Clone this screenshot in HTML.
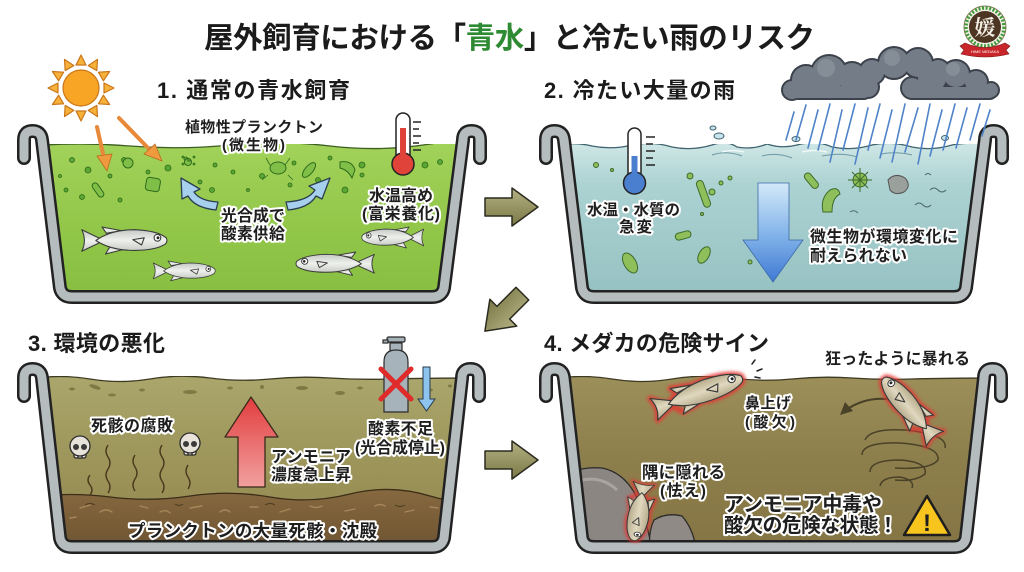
<!DOCTYPE html>
<html><head><meta charset="utf-8">
<style>
html,body{margin:0;padding:0;background:#fff;}
svg{display:block;}
.t{font-family:"Liberation Sans","Noto Sans CJK JP",sans-serif;font-weight:700;}
.lbl{font-family:"Liberation Sans","Noto Sans CJK JP",sans-serif;font-weight:700;fill:#1e1e1e;stroke:#fff;stroke-width:4;paint-order:stroke;stroke-linejoin:round;}
</style></head>
<body>
<svg width="1024" height="572" viewBox="0 0 1024 572" xmlns="http://www.w3.org/2000/svg">
<defs>
 <linearGradient id="gGreen" x1="0" y1="0" x2="0" y2="1"><stop offset="0" stop-color="#a2d25a"/><stop offset="0.5" stop-color="#92c74a"/><stop offset="1" stop-color="#86bd3f"/></linearGradient>
 <linearGradient id="gBlue" x1="0" y1="0" x2="0" y2="1"><stop offset="0" stop-color="#cfe7e6"/><stop offset="0.25" stop-color="#acd2d2"/><stop offset="1" stop-color="#93bfc0"/></linearGradient>
 <linearGradient id="gOlive" x1="0" y1="0" x2="0" y2="1"><stop offset="0" stop-color="#aaa66c"/><stop offset="0.5" stop-color="#9c9459"/><stop offset="1" stop-color="#8f844f"/></linearGradient>
 <linearGradient id="gSed" x1="0" y1="0" x2="0" y2="1"><stop offset="0" stop-color="#86693f"/><stop offset="1" stop-color="#6a5030"/></linearGradient>
 <linearGradient id="gBrown" x1="0" y1="0" x2="0" y2="1"><stop offset="0" stop-color="#9c8f5a"/><stop offset="0.45" stop-color="#8d7f4c"/><stop offset="1" stop-color="#847343"/></linearGradient>
 <linearGradient id="gDown" x1="0" y1="0" x2="0" y2="1"><stop offset="0" stop-color="#d3e9f8"/><stop offset="0.5" stop-color="#86b6ea"/><stop offset="1" stop-color="#3f7ad4"/></linearGradient>
 <linearGradient id="gUp" x1="0" y1="0" x2="0" y2="1"><stop offset="0" stop-color="#e23d3d"/><stop offset="1" stop-color="#f2a0a0"/></linearGradient>
 <linearGradient id="gArr" x1="0" y1="0" x2="0" y2="1"><stop offset="0" stop-color="#b3b083"/><stop offset="1" stop-color="#7c7947"/></linearGradient>
 <linearGradient id="gFish" x1="0" y1="0" x2="0" y2="1"><stop offset="0" stop-color="#c4c9c6"/><stop offset="0.5" stop-color="#eef0ec"/><stop offset="1" stop-color="#c9cdc8"/></linearGradient>
 <linearGradient id="gFish2" x1="0" y1="0" x2="0" y2="1"><stop offset="0" stop-color="#b7ab8a"/><stop offset="0.5" stop-color="#e0d8bf"/><stop offset="1" stop-color="#b5aa8c"/></linearGradient>
 <filter id="blur" x="-30%" y="-30%" width="160%" height="160%"><feGaussianBlur stdDeviation="1.6"/></filter>

 <path id="tubA" d="M24 158 L24 140 Q24 131 32.5 131 Q41 131 42 140 L60 288 Q62 297 72 297 L432 297 Q442 297 444 288 L463 140 Q463 131 471.5 131 Q480 131 480 140 L480 158"/>
 <path id="tubB" d="M24 396 L24 378 Q24 369 32.5 369 Q41 369 42 378 L60 538 Q62 547 72 547 L432 547 Q442 547 444 538 L462 378 Q462 369 470.5 369 Q479 369 479 378 L479 396"/>
 <clipPath id="cA"><path d="M42.7 144 L462.3 144 L444 288 Q442 297 432 297 L72 297 Q62 297 60 288 Z"/></clipPath>
 <clipPath id="cB"><path d="M43 376 L461.8 376 L444 538 Q442 547 432 547 L72 547 Q62 547 60 538 Z"/></clipPath>

 <g id="fish" stroke="#3a3a3a" stroke-width="1.2" stroke-linejoin="round">
  <path d="M2 3 Q8 15 2 27 L21 18 L21 12 Z"/>
  <path d="M30 7 L25 0 L47 4 Z"/>
  <path d="M34 22 L29 30 L53 24 Z"/>
  <path d="M18 15 Q35 3 62 3 Q88 4 98 12 Q100 16 97 19 Q86 26 62 26 Q35 26 18 15 Z"/>
  <path d="M60 14 L73 12 L70 20 Z" fill="none"/>
  <circle cx="88" cy="12" r="3.8" fill="#fff"/>
  <circle cx="88.6" cy="12" r="1.6" fill="#222" stroke="none"/>
 </g>
 <path id="fishOut" d="M2 3 Q8 15 2 27 L21 18 L30 28 L53 24 Q60 26 62 26 Q86 26 97 19 Q100 16 98 12 Q88 4 62 3 L47 4 L25 0 L30 7 Q22 11 18 15 Z"/>

 <path id="oArrow" d="M-26 -9 L1 -9 L1 -19 L27 0 L1 19 L1 9 L-26 9 Z"/>
</defs>

<!-- Title -->
<text class="t" x="204" y="48" font-size="29.5" fill="#1b1b1b" textLength="611">屋外飼育における「<tspan fill="#2f8a34">青水</tspan>」と冷たい雨のリスク</text>

<!-- Logo -->
<g>
 <circle cx="985" cy="27" r="21" fill="#f4f1e6" stroke="#8a7a5a" stroke-width="1"/>
 <circle cx="985" cy="27" r="19" fill="none" stroke="#3f9b3c" stroke-width="3.5" stroke-dasharray="2 1.6"/>
 <circle cx="985" cy="27" r="16" fill="#4d3524"/>
 <text x="985" y="35" text-anchor="middle" font-size="21" fill="#f5f0e6" font-family="Liberation Serif,'Noto Serif CJK SC',serif" font-weight="700">媛</text>
 <path d="M960 46 L965 43 Q985 52 1005 43 L1010 46 L1006 50 L1009 54 Q985 60 961 54 L964 50 Z" fill="#c8262b" stroke="#7a1515" stroke-width="0.6"/>
 <text x="985" y="53" text-anchor="middle" font-size="4" fill="#fff" font-family="Liberation Sans,sans-serif">HIME   MEDAKA</text>
</g>

<!-- ================= PANEL 1 ================= -->
<text class="t" x="157" y="98" font-size="22" fill="#1b1b1b" textLength="193">1. 通常の青水飼育</text>
<!-- sun -->
<g stroke="#c9761a" stroke-width="1.2" fill="#f6b13a" stroke-linejoin="round">
 <g transform="translate(81,88)">
  <polygon points="0,-33 -5,-23 5,-23"/>
  <polygon points="0,-33 -5,-23 5,-23" transform="rotate(30)"/>
  <polygon points="0,-33 -5,-23 5,-23" transform="rotate(60)"/>
  <polygon points="0,-33 -5,-23 5,-23" transform="rotate(90)"/>
  <polygon points="0,-33 -5,-23 5,-23" transform="rotate(120)"/>
  <polygon points="0,-33 -5,-23 5,-23" transform="rotate(150)"/>
  <polygon points="0,-33 -5,-23 5,-23" transform="rotate(180)"/>
  <polygon points="0,-33 -5,-23 5,-23" transform="rotate(210)"/>
  <polygon points="0,-33 -5,-23 5,-23" transform="rotate(240)"/>
  <polygon points="0,-33 -5,-23 5,-23" transform="rotate(270)"/>
  <polygon points="0,-33 -5,-23 5,-23" transform="rotate(300)"/>
  <polygon points="0,-33 -5,-23 5,-23" transform="rotate(330)"/>
  <circle r="18" fill="#f8a526"/>
 </g>
</g>
<!-- water -->
<g clip-path="url(#cA)">
 <rect x="30" y="140" width="450" height="170" fill="#fff"/>
 <path d="M30 146 Q80 142 130 146 T230 145 T330 146 T430 144 T490 146 L490 310 L30 310 Z" fill="url(#gGreen)"/>
 <path d="M30 146 Q80 142 130 146 T230 145 T330 146 T430 144 T490 146" fill="none" stroke="#3d5f22" stroke-width="1.3"/>
 <g fill="#5aa632" stroke="#2f6b1c" stroke-width="0.8">
  <circle cx="72" cy="160" r="2.5"/><circle cx="88" cy="170" r="3"/><circle cx="110" cy="176" r="2"/><circle cx="124" cy="160" r="2.5"/>
  <circle cx="148" cy="172" r="2"/><circle cx="168" cy="168" r="3"/><circle cx="186" cy="159" r="2"/><circle cx="200" cy="182" r="2"/>
  <circle cx="66" cy="190" r="2"/><circle cx="82" cy="197" r="2.5"/><circle cx="120" cy="200" r="2"/><circle cx="212" cy="190" r="2.5"/>
  <circle cx="233" cy="172" r="2"/><circle cx="262" cy="176" r="2.5"/><circle cx="290" cy="185" r="2"/><circle cx="318" cy="180" r="2.5"/>
  <circle cx="330" cy="158" r="2"/><circle cx="345" cy="190" r="3"/><circle cx="362" cy="165" r="3"/><circle cx="373" cy="192" r="2"/>
  <circle cx="425" cy="165" r="3"/><circle cx="440" cy="162" r="2.5"/><circle cx="362" cy="175" r="2"/><circle cx="215" cy="165" r="2"/>
  <circle cx="60" cy="176" r="1.5"/><circle cx="294" cy="163" r="2"/><circle cx="248" cy="190" r="1.5"/>
 </g>
 <g fill="#7fbf47" stroke="#2f6b1c" stroke-width="1">
  <circle cx="128" cy="163" r="5"/><circle cx="188" cy="162" r="3.5"/>
  <rect x="146" y="178" width="14" height="13" rx="3" transform="rotate(10 153 184)"/>
  <ellipse cx="280" cy="172" rx="11" ry="5" transform="rotate(-55 220 170)"/>
  <ellipse cx="278" cy="168" rx="8" ry="6"/>
  <ellipse cx="309" cy="170" rx="9" ry="4" transform="rotate(-50 309 170)"/>
  <path d="M340 162 Q352 160 355 170 L352 178 Q348 170 340 168 Z"/>
  <rect x="95" y="182" width="6" height="16" rx="3" transform="rotate(-35 98 190)"/>
 </g>
 <g fill="#5aa632" stroke="#2f6b1c" stroke-width="0.8"><circle cx="189" cy="160" r="1.4"/><circle cx="183" cy="157" r="1"/><circle cx="194" cy="157" r="1"/><circle cx="183" cy="164" r="1"/><circle cx="194" cy="164" r="1"/></g>
 <g stroke="#2f6b1c" stroke-width="0.8"><line x1="270" y1="165" x2="266" y2="158"/><line x1="285" y1="165" x2="290" y2="158"/><line x1="268" y1="175" x2="262" y2="180"/><line x1="288" y1="175" x2="293" y2="180"/></g>
 <!-- fish -->
 <use href="#fish" fill="url(#gFish)" transform="translate(80,227) scale(0.88,0.9)"/>
 <use href="#fish" fill="url(#gFish)" transform="translate(152,261) scale(0.64,0.66)"/>
 <use href="#fish" fill="url(#gFish)" transform="translate(425,227) scale(-0.64,0.7)"/>
 <use href="#fish" fill="url(#gFish)" transform="translate(376,252) scale(-0.81,0.78)"/>
</g>
<use href="#tubA" fill="none" stroke="#222" stroke-width="14" stroke-linecap="round" stroke-linejoin="round"/>
<use href="#tubA" fill="none" stroke="#b5bcbe" stroke-width="9" stroke-linecap="round" stroke-linejoin="round"/>
<!-- orange arrows -->
<g stroke="#e8893a" stroke-width="4" fill="#f09a40" stroke-linecap="round">
 <line x1="97" y1="127" x2="104" y2="158"/>
 <line x1="119" y1="118" x2="150" y2="150"/>
</g>
<g fill="#f09a40" stroke="#b86a20" stroke-width="0.8">
 <polygon points="107,171 97,156 112,154"/>
 <polygon points="162,161 144,154 155,144"/>
</g>
<!-- thermometer 1 -->
<g stroke="#222" stroke-width="1.5">
 <rect x="396" y="113" width="14" height="52" rx="7" fill="#fff"/>
 <circle cx="403" cy="164" r="11" fill="#e0433a"/>
 <rect x="400" y="128" width="6" height="34" fill="#e0433a" stroke="none"/>
 <line x1="413" y1="122" x2="421" y2="122"/><line x1="413" y1="129" x2="419" y2="129"/><line x1="413" y1="136" x2="421" y2="136"/><line x1="413" y1="143" x2="419" y2="143"/><line x1="413" y1="150" x2="421" y2="150"/>
</g>
<!-- blue curved arrows -->
<g stroke="#2c3e50" stroke-width="1.3" stroke-linejoin="round" fill="#a7cfee">
 <path d="M216 210 Q195 208 188 196 L182 199 L181 178 L200 189 L194 192 Q200 201 218 202 Z"/>
 <path d="M288 210 Q309 208 316 196 L322 199 L330 178 L309 186 L315 190 Q308 201 286 202 Z"/>
</g>
<text class="lbl" x="185" y="132" font-size="15" textLength="138">植物性プランクトン</text>
<text class="lbl" x="222" y="150" font-size="15" textLength="63">(微生物)</text>
<text class="lbl" x="221" y="221" font-size="16" textLength="64">光合成で</text>
<text class="lbl" x="221" y="239" font-size="16" textLength="64">酸素供給</text>
<text class="lbl" x="369" y="201" font-size="16" textLength="64">水温高め</text>
<text class="lbl" x="362" y="219" font-size="16" textLength="78">(富栄養化)</text>

<!-- ================= PANEL 2 ================= -->
<text class="t" x="544" y="98" font-size="22" fill="#1b1b1b" textLength="191">2. 冷たい大量の雨</text>
<!-- clouds -->
<g fill="#3c424b">
 <circle cx="792" cy="90" r="11"/><circle cx="806" cy="80" r="16"/><circle cx="829" cy="73" r="19"/><circle cx="852" cy="77" r="16"/><circle cx="868" cy="87" r="12"/><rect x="790" y="84" width="82" height="16" rx="8"/>
 <circle cx="872" cy="72" r="14"/><circle cx="894" cy="63" r="17"/><circle cx="918" cy="63" r="16"/><circle cx="938" cy="71" r="13"/>
 <circle cx="912" cy="88" r="12"/><circle cx="932" cy="78" r="16"/><circle cx="956" cy="74" r="15"/><circle cx="976" cy="82" r="13"/><circle cx="991" cy="90" r="9"/><rect x="905" y="85" width="92" height="15" rx="7"/>
</g>
<g fill="#747c87">
 <circle cx="792" cy="90" r="9"/><circle cx="806" cy="80" r="14"/><circle cx="829" cy="73" r="17"/><circle cx="852" cy="77" r="14"/><circle cx="868" cy="87" r="10"/><rect x="792" y="86" width="78" height="12" rx="6"/>
 <circle cx="872" cy="72" r="12"/><circle cx="894" cy="63" r="15"/><circle cx="918" cy="63" r="14"/><circle cx="938" cy="71" r="11"/>
 <circle cx="912" cy="88" r="10"/><circle cx="932" cy="78" r="14"/><circle cx="956" cy="74" r="13"/><circle cx="976" cy="82" r="11"/><circle cx="991" cy="90" r="7"/><rect x="907" y="87" width="88" height="11" rx="5"/>
</g>
<g fill="#8a929c" opacity="0.8"><circle cx="826" cy="68" r="9"/><circle cx="892" cy="58" r="8"/><circle cx="953" cy="69" r="7"/></g>
<!-- water -->
<g transform="translate(522,0)">
 <g clip-path="url(#cA)">
  <rect x="30" y="140" width="450" height="170" fill="#fff"/>
  <path d="M30 147 Q50 141 70 146 Q90 150 110 145 Q130 141 150 147 Q170 151 190 145 Q205 140 215 147 Q230 150 245 144 Q260 149 275 145 Q295 140 310 147 Q330 151 350 145 Q370 141 390 147 Q410 151 430 145 Q450 141 490 146 L490 310 L30 310 Z" fill="url(#gBlue)"/>
  <path d="M30 147 Q50 141 70 146 Q90 150 110 145 Q130 141 150 147 Q170 151 190 145 Q205 140 215 147 Q230 150 245 144 Q260 149 275 145 Q295 140 310 147 Q330 151 350 145 Q370 141 390 147 Q410 151 430 145 Q450 141 490 146" fill="none" stroke="#3f6470" stroke-width="1.3"/>
  <g fill="none" stroke="#6f98a4" stroke-width="1"><path d="M190 155 Q205 150 220 156"/><path d="M240 156 Q255 152 270 158"/><path d="M300 156 Q320 152 335 157"/><path d="M360 154 Q375 151 390 155"/></g>
  <g fill="none" stroke="#f4fbfb" stroke-width="1.2"><path d="M200 152 Q210 149 222 152"/><path d="M280 152 Q292 149 305 152"/></g>
 </g>
 <use href="#tubA" fill="none" stroke="#222" stroke-width="14" stroke-linecap="round" stroke-linejoin="round"/>
 <use href="#tubA" fill="none" stroke="#b5bcbe" stroke-width="9" stroke-linecap="round" stroke-linejoin="round"/>
</g>
<!-- splashes -->
<g fill="#c9e3ec" stroke="#3f6470" stroke-width="1"><ellipse cx="719" cy="136" rx="5" ry="3"/><ellipse cx="713" cy="128" rx="3" ry="2"/><ellipse cx="796" cy="139" rx="4" ry="2.5"/><ellipse cx="945" cy="138" rx="3.5" ry="2.5"/></g>
<!-- rain -->
<g stroke="#4f83c9" stroke-width="1.6" stroke-linecap="round">
 <line x1="794" y1="112" x2="786" y2="140"/><line x1="806" y1="105" x2="796" y2="140"/><line x1="818" y1="110" x2="808" y2="148"/>
 <line x1="830" y1="104" x2="818" y2="150"/><line x1="842" y1="110" x2="830" y2="162"/><line x1="855" y1="104" x2="843" y2="150"/>
 <line x1="868" y1="108" x2="855" y2="164"/><line x1="880" y1="104" x2="868" y2="150"/><line x1="892" y1="110" x2="880" y2="158"/>
 <line x1="905" y1="104" x2="892" y2="162"/><line x1="918" y1="108" x2="905" y2="152"/><line x1="930" y1="104" x2="918" y2="164"/>
 <line x1="942" y1="110" x2="930" y2="156"/><line x1="955" y1="104" x2="943" y2="150"/><line x1="967" y1="108" x2="956" y2="148"/>
 <line x1="980" y1="104" x2="970" y2="140"/><line x1="990" y1="110" x2="982" y2="136"/>
</g>
<!-- microbes p2 -->
<g fill="#8fbf5a" stroke="#3d6b2a" stroke-width="1">
 <circle cx="596" cy="165" r="2.5"/><circle cx="690" cy="176" r="3"/><circle cx="721" cy="183" r="2"/><circle cx="712" cy="192" r="3"/><circle cx="730" cy="178" r="2"/>
 <circle cx="666" cy="208" r="1.5"/><circle cx="702" cy="214" r="1.5"/><circle cx="750" cy="262" r="2"/><circle cx="612" cy="170" r="1.5"/>
 <rect x="700" y="180" width="7" height="28" rx="3.5" transform="rotate(-20 703 194)"/>
 <rect x="808" y="172" width="7" height="18" rx="3.5" transform="rotate(-40 811 181)"/>
 <rect x="675" y="232" width="16" height="7" rx="3.5" transform="rotate(-15 683 235)"/>
 <ellipse cx="630" cy="263" rx="6" ry="11" transform="rotate(-30 630 263)"/>
 <ellipse cx="704" cy="255" rx="5" ry="9" transform="rotate(30 704 255)"/>
 <path d="M823 212 Q820 198 830 190 Q838 186 840 194 Q832 198 832 212 Z"/>
 <circle cx="860" cy="180" r="7"/>
</g>
<g stroke="#3d6b2a" stroke-width="1"><line x1="860" y1="168" x2="860" y2="192"/><line x1="848" y1="180" x2="872" y2="180"/><line x1="852" y1="172" x2="868" y2="188"/><line x1="868" y1="172" x2="852" y2="188"/></g>
<path d="M888 180 Q895 172 905 178 Q912 186 904 192 Q895 196 890 190 Z" fill="#9aa09c" stroke="#555" stroke-width="1"/>
<g fill="none" stroke="#4b6a70" stroke-width="1"><path d="M930 190 q4 -4 8 0 t8 0"/><path d="M915 205 q4 -4 8 0 t8 0"/><path d="M925 175 q3 -3 6 0"/><path d="M850 212 q4 -3 8 1"/></g>
<!-- thermometer 2 -->
<g stroke="#222" stroke-width="1.5">
 <rect x="628" y="128" width="13" height="54" rx="6.5" fill="#fff"/>
 <circle cx="634.5" cy="183" r="11" fill="#4a7fd0"/>
 <rect x="631.5" y="156" width="6" height="26" fill="#4a7fd0" stroke="none"/>
 <line x1="646" y1="137" x2="655" y2="137"/><line x1="646" y1="144" x2="653" y2="144"/><line x1="646" y1="151" x2="655" y2="151"/><line x1="646" y1="158" x2="653" y2="158"/><line x1="646" y1="165" x2="655" y2="165"/>
</g>
<!-- big down arrow -->
<polygon points="758,183 789,183 789,240 803,240 773,282 743,240 758,240" fill="url(#gDown)" stroke="#3d6aa8" stroke-width="0.8"/>
<text class="lbl" x="587" y="215" font-size="15.5" textLength="93">水温・水質の</text>
<text class="lbl" x="619" y="232" font-size="15.5" textLength="33">急変</text>
<text class="lbl" x="810" y="242" font-size="16" textLength="148">微生物が環境変化に</text>
<text class="lbl" x="810" y="261" font-size="16" textLength="97">耐えられない</text>

<!-- ================= PANEL 3 ================= -->
<text class="t" x="28" y="351" font-size="22" fill="#1b1b1b" textLength="137">3. 環境の悪化</text>
<g clip-path="url(#cB)">
 <rect x="30" y="370" width="450" height="190" fill="#fff"/>
 <path d="M30 379 Q60 374 90 379 T150 379 T210 378 T270 379 T330 378 T390 379 T490 378 L490 560 L30 560 Z" fill="url(#gOlive)"/>
 <path d="M30 379 Q60 374 90 379 T150 379 T210 378 T270 379 T330 378 T390 379 T490 378" fill="none" stroke="#3d3a22" stroke-width="1.3"/>
 <g fill="#7d7a45"><ellipse cx="72" cy="389" rx="3" ry="1.5"/><ellipse cx="95" cy="387" rx="6" ry="2" transform="rotate(20 95 387)"/><ellipse cx="112" cy="395" rx="4" ry="1.5"/><ellipse cx="142" cy="390" rx="3" ry="1.5"/><ellipse cx="190" cy="392" rx="7" ry="2"/><ellipse cx="230" cy="388" rx="3" ry="1.5"/><ellipse cx="262" cy="387" rx="2" ry="2"/><ellipse cx="302" cy="388" rx="6" ry="2"/><ellipse cx="340" cy="393" rx="5" ry="2"/><ellipse cx="360" cy="388" rx="3" ry="1.5"/><ellipse cx="430" cy="390" rx="3" ry="1.5"/><ellipse cx="450" cy="386" rx="2" ry="1.5"/></g>
 <path d="M30 497 Q70 492 110 497 T190 496 T270 497 T350 494 T430 496 T490 495 L490 560 L30 560 Z" fill="url(#gSed)"/>
 <path d="M30 497 Q70 492 110 497 T190 496 T270 497 T350 494 T430 496 T490 495" fill="none" stroke="#3b2d18" stroke-width="1.3"/>
 <g fill="none" stroke="#a6875a" stroke-width="1.4" stroke-linecap="round">
  <path d="M80 508 l10 -3"/><path d="M100 512 q6 -4 12 0"/><path d="M140 506 l8 2"/><path d="M160 512 q6 -3 10 1"/><path d="M190 508 l12 -2"/><path d="M220 512 q5 -4 10 0"/><path d="M250 507 l8 0"/><path d="M280 512 l10 -3"/><path d="M310 506 q6 3 12 0"/><path d="M345 511 l10 -2"/><path d="M375 506 q5 -3 10 0"/><path d="M405 512 l9 -2"/><path d="M430 507 l8 1"/><path d="M70 518 l6 -1"/>
 </g>
 <g fill="none" stroke="#4a3a20" stroke-width="0.9"><path d="M85 505 q5 -3 10 0"/><path d="M175 504 q4 3 8 0"/><path d="M265 505 q5 -3 10 0"/><path d="M395 505 q5 3 10 0"/></g>
</g>
<use href="#tubB" fill="none" stroke="#222" stroke-width="14" stroke-linecap="round" stroke-linejoin="round"/>
<use href="#tubB" fill="none" stroke="#b5bcbe" stroke-width="9" stroke-linecap="round" stroke-linejoin="round"/>
<!-- stench lines -->
<g fill="none" stroke="#4a3a1c" stroke-width="1.4">
 <path d="M90 475 q-4 5 0 10 t0 10"/>
 <path d="M108 445 q-4 6 0 12 t0 12 t0 12 t0 12"/>
 <path d="M135 455 q-4 6 0 12 t0 12 t0 12"/>
 <path d="M162 445 q-4 6 0 12 t0 12 t0 12 t0 12"/>
 <path d="M188 465 q-4 6 0 12 t0 12"/>
</g>
<!-- skulls -->
<g stroke="#2a2a2a" stroke-width="1.3">
 <g transform="translate(80,446)"><rect x="-6" y="4" width="12" height="8" rx="2" fill="#e7e3da"/><circle r="10" fill="#e7e3da"/><circle cx="-4" cy="1" r="3" fill="#3a3a3a" stroke="none"/><circle cx="4" cy="1" r="3" fill="#3a3a3a" stroke="none"/><line x1="-2" y1="9" x2="-2" y2="12"/><line x1="2" y1="9" x2="2" y2="12"/></g>
 <g transform="translate(190,443)"><rect x="-6" y="4" width="12" height="8" rx="2" fill="#e7e3da"/><circle r="10" fill="#e7e3da"/><circle cx="-4" cy="1" r="3" fill="#3a3a3a" stroke="none"/><circle cx="4" cy="1" r="3" fill="#3a3a3a" stroke="none"/><line x1="-2" y1="9" x2="-2" y2="12"/><line x1="2" y1="9" x2="2" y2="12"/></g>
</g>
<!-- red up arrow -->
<polygon points="251,397 278,437 265,437 265,487 238,487 238,437 225,437" fill="url(#gUp)" stroke="#3a2a1a" stroke-width="1.3" stroke-linejoin="round"/>
<!-- oxygen tank -->
<g stroke="#2a2a2a" stroke-width="1.2">
 <rect x="390" y="343" width="12" height="8" fill="#a5b2b9"/>
 <rect x="387" y="337" width="18" height="5" rx="1.5" fill="#a5b2b9"/>
 <rect x="383" y="340" width="5" height="3" fill="#a5b2b9"/>
 <path d="M384 412 L384 362 Q384 350 396 350 Q408 350 408 362 L408 412 Z" fill="#a7b3ba"/>
</g>
<g stroke="#e02b2b" stroke-width="5" stroke-linecap="round"><line x1="381" y1="369" x2="411" y2="399"/><line x1="411" y1="369" x2="381" y2="399"/></g>
<polygon points="423,367 430,367 430,399 435,399 426.5,411 418,399 423,399" fill="#8cc4ee" stroke="#2a3a4a" stroke-width="1"/>
<text class="lbl" x="91" y="431" font-size="16" textLength="82">死骸の腐敗</text>
<text class="lbl" x="271" y="462" font-size="16" textLength="80">アンモニア</text>
<text class="lbl" x="271" y="480" font-size="16" textLength="80">濃度急上昇</text>
<text class="lbl" x="368" y="434" font-size="16" textLength="65">酸素不足</text>
<text class="lbl" x="355" y="453" font-size="16" textLength="90">(光合成停止)</text>
<text class="lbl" x="128" y="537" font-size="17.5" textLength="249">プランクトンの大量死骸・沈殿</text>

<!-- ================= PANEL 4 ================= -->
<text class="t" x="544" y="351" font-size="22" fill="#1b1b1b" textLength="225">4. メダカの危険サイン</text>
<g transform="translate(522,0)">
 <g clip-path="url(#cB)">
  <rect x="30" y="370" width="450" height="190" fill="#fff"/>
  <path d="M30 379 Q60 374 90 379 T150 379 T210 378 T270 379 T330 378 T390 379 T490 378 L490 560 L30 560 Z" fill="url(#gBrown)"/>
  <path d="M30 379 Q60 374 90 379 T150 379 T210 378 T270 379 T330 378 T390 379 T490 378" fill="none" stroke="#3d3a22" stroke-width="1.3"/>
  <!-- rocks -->
  <path d="M40 478 Q55 466 80 468 Q100 472 112 492 Q124 515 130 550 L40 550 Z" fill="#8b8682" stroke="#2a2a2a" stroke-width="1.3"/>
  <path d="M132 520 Q145 512 160 516 Q172 530 174 550 L128 550 Q126 532 132 520 Z" fill="#8f8a86" stroke="#2a2a2a" stroke-width="1.3"/>
  <path d="M60 480 Q80 476 95 490" fill="none" stroke="#a9a4a0" stroke-width="3"/>
 </g>
 <use href="#tubB" fill="none" stroke="#222" stroke-width="14" stroke-linecap="round" stroke-linejoin="round"/>
 <use href="#tubB" fill="none" stroke="#b5bcbe" stroke-width="9" stroke-linecap="round" stroke-linejoin="round"/>
</g>
<!-- swirl -->
<g fill="none" stroke="#4a4228" stroke-width="1.5">
 <path d="M865 440 Q870 428 905 430 Q948 434 945 448"/>
 <path d="M862 455 Q862 442 900 443 Q940 446 938 460 Q930 470 895 468"/>
 <path d="M870 472 Q870 460 900 460 Q928 462 925 474 Q915 482 895 480"/>
 <path d="M880 486 Q882 477 900 477 Q915 480 912 488"/>
</g>
<!-- curved arrow -->
<path d="M905 403 Q872 392 846 410" fill="none" stroke="#4a4228" stroke-width="2.2"/>
<polygon points="840,415 845,402 853,411" fill="#4a4228"/>
<!-- fish glows -->
<g filter="url(#blur)" fill="none" stroke="#e53935" stroke-width="6" stroke-linejoin="round" opacity="0.85">
 <use href="#fishOut" transform="translate(652,410) rotate(-19.4) scale(0.97,0.95) translate(0,-15)"/>
 <use href="#fishOut" transform="translate(936,440) rotate(-130.5) scale(0.82,-0.95) translate(0,-15)"/>
 <use href="#fishOut" transform="translate(644,482) rotate(100) scale(0.6,0.9) translate(0,-15)"/>
</g>
<use href="#fish" fill="url(#gFish2)" transform="translate(652,410) rotate(-19.4) scale(0.97,0.95) translate(0,-15)"/>
<use href="#fish" fill="url(#gFish2)" transform="translate(936,440) rotate(-130.5) scale(0.82,-0.95) translate(0,-15)"/>
<use href="#fish" fill="url(#gFish2)" transform="translate(644,482) rotate(100) scale(0.6,0.9) translate(0,-15)"/>
<!-- splash marks -->
<g stroke="#222" stroke-width="1.5" stroke-linecap="round"><line x1="752" y1="364" x2="755" y2="360"/><line x1="757" y1="371" x2="762" y2="369"/><line x1="755" y1="377" x2="760" y2="378"/></g>
<!-- warning -->
<polygon points="927,496 950,535 904,535" fill="#f7c51d" stroke="#1e1e1e" stroke-width="2.5" stroke-linejoin="round"/>
<text x="927" y="531" text-anchor="middle" font-size="24" font-weight="700" fill="#1e1e1e" font-family="Liberation Sans,sans-serif">!</text>
<text class="lbl" x="825" y="364" font-size="16" textLength="145">狂ったように暴れる</text>
<text class="lbl" x="745" y="408" font-size="15" textLength="46">鼻上げ</text>
<text class="lbl" x="745" y="427" font-size="15" textLength="50">(酸欠)</text>
<text class="lbl" x="642" y="478" font-size="16.5" textLength="83">隅に隠れる</text>
<text class="lbl" x="660" y="496" font-size="16" textLength="46">(怯え)</text>
<text class="lbl" x="724" y="511" font-size="20" textLength="158">アンモニア中毒や</text>
<text class="lbl" x="724" y="532" font-size="20" textLength="174">酸欠の危険な状態！</text>

<!-- olive arrows -->
<g fill="url(#gArr)" stroke="#2b2b1e" stroke-width="1.5" stroke-linejoin="round">
 <use href="#oArrow" transform="translate(511,207)"/>
 <use href="#oArrow" transform="translate(504,312) rotate(135)"/>
 <use href="#oArrow" transform="translate(511,460)"/>
</g>
</svg>
</body></html>
